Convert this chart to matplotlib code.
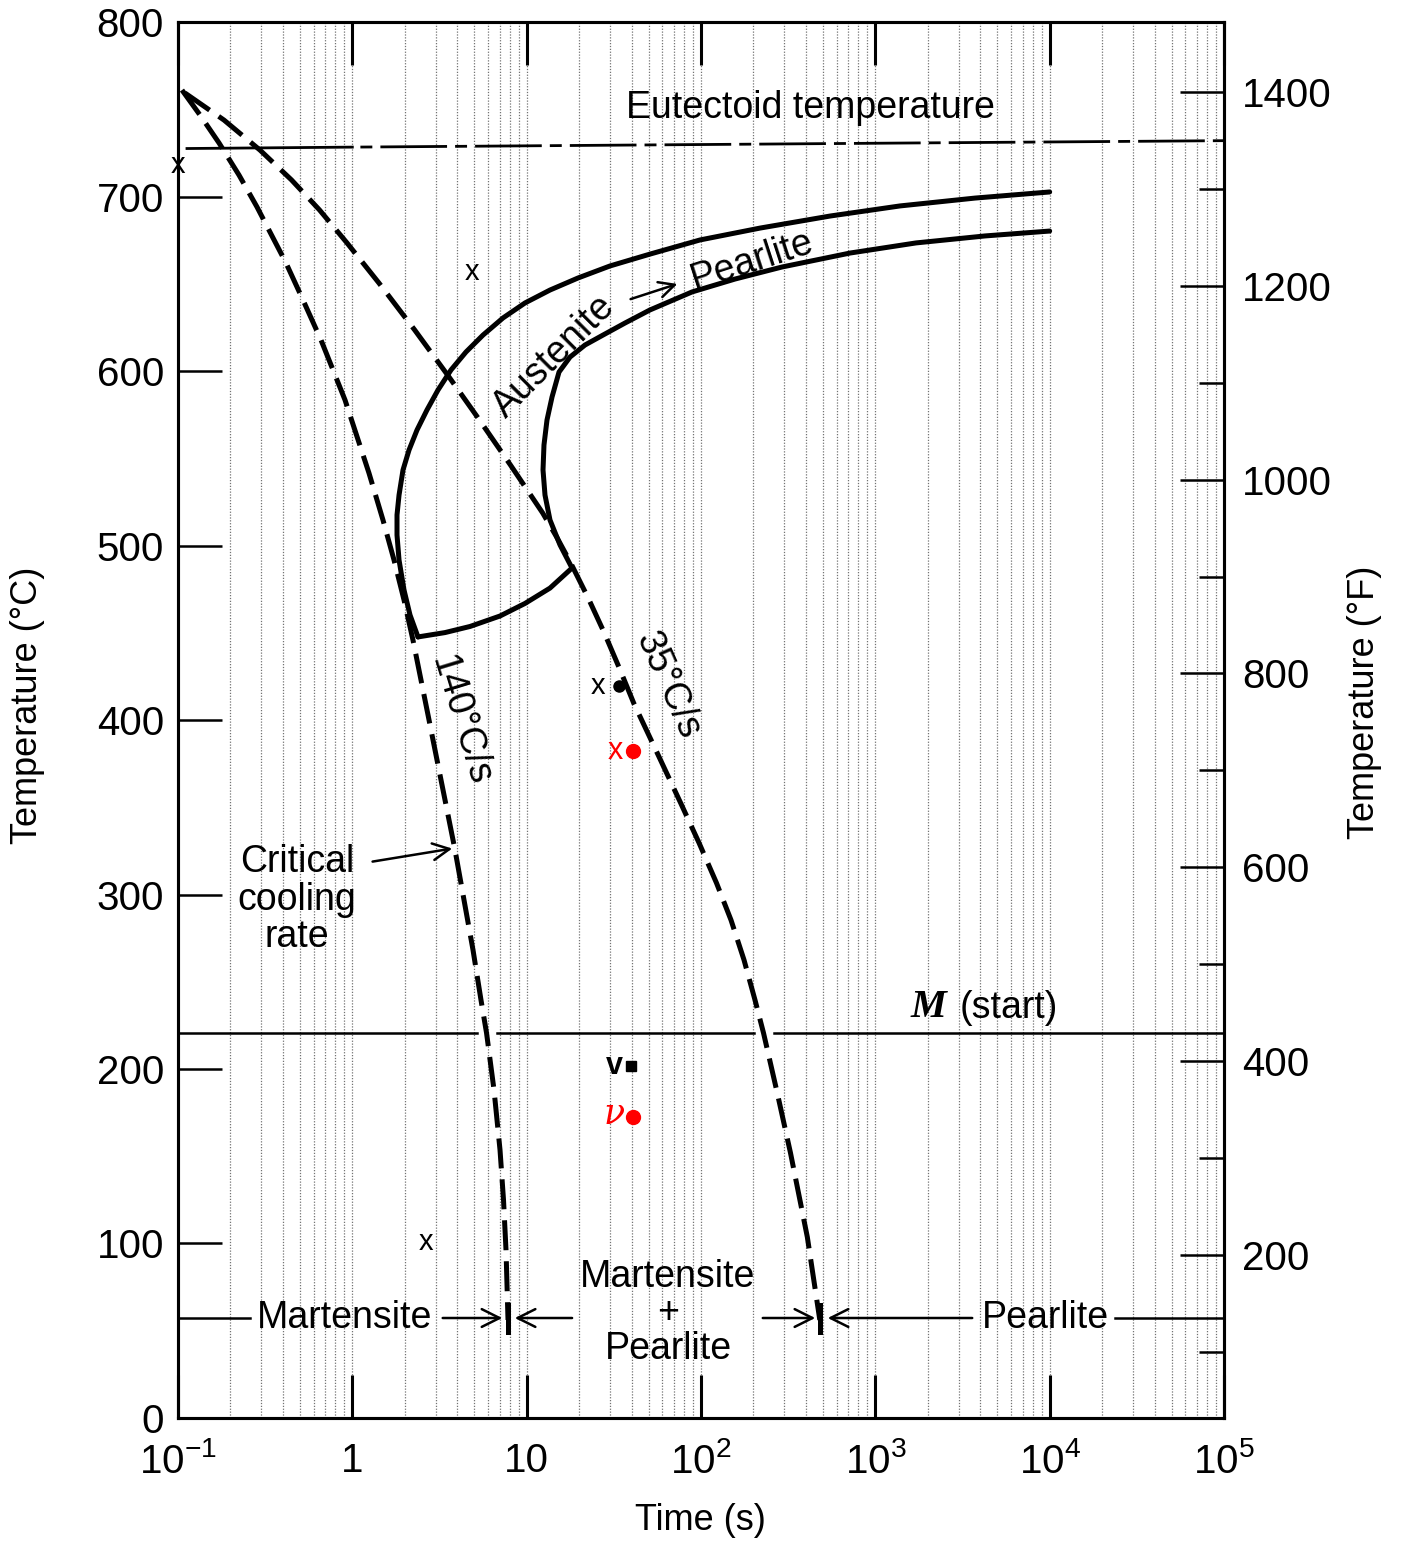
import matplotlib.pyplot as plt
import numpy as np
from matplotlib.ticker import FixedLocator, LogLocator, NullFormatter

plt.rcParams['font.family'] = ['Liberation Sans', 'DejaVu Sans']
plt.rcParams['mathtext.fontset'] = 'custom'
plt.rcParams['mathtext.rm'] = 'Liberation Sans'
plt.rcParams['mathtext.it'] = 'Liberation Sans:italic'
plt.rcParams['mathtext.bf'] = 'Liberation Sans:bold'

# axes
time_ticks = [0.1, 1, 10, 100, 1e3, 1e4, 1e5]
time_labels = ['$10^{-1}$', '1', '10', '$10^{2}$', '$10^{3}$', '$10^{4}$', '$10^{5}$']
tempC_ticks = [0, 100, 200, 300, 400, 500, 600, 700, 800]
tempF_major = [200, 400, 600, 800, 1000, 1200, 1400]
tempF_minor = [100, 300, 500, 700, 900, 1100, 1300]

# cooling curves (time s, temp C)
fast_t = [0.1054, 0.1337, 0.1719, 0.2238, 0.2839, 0.4165, 0.5212, 0.661, 0.9079, 1.246,
          1.499, 1.734, 1.979, 2.228, 2.477, 2.754, 3.060, 3.401, 3.882, 4.372, 4.923, 5.471,
          5.887, 6.497, 7.033, 7.366, 7.612, 7.816]
fast_T = [761, 746.7, 730.7, 712.3, 694, 661.9, 640.7, 617.8, 583.4, 541.5,
          514.6, 491.7, 468.8, 445.8, 422.9, 400, 377.1, 354.2, 325.5, 296.8, 268.2, 239.5,
          220.6, 188, 153.6, 124.9, 96.3, 56.2]
slow_t = [0.1096, 0.1836, 0.2953, 0.4478, 0.6481, 0.932, 1.422, 2.279, 3.585, 5.218, 8.077,
          12.36, 14.97, 17.89, 22.54, 27.89, 33.99, 41.11, 56.09, 76.47, 97.52, 122.7, 148.6,
          176.5, 204.1, 228.4, 273.9, 326.1, 407.3, 480.3]
slow_T = [759.3, 743.8, 726.6, 709.5, 692.3, 673.4, 650.4, 623.5, 596.6, 573.6, 546.1,
          518.6, 504.3, 490, 469.9, 449.9, 429.8, 409.7, 381.1, 352.4, 329.5, 306.6, 285.4,
          262.5, 239.5, 220.6, 186.2, 151.9, 103.7, 56.2]

# transformation curves
start_t = [2.380, 2.142, 1.979, 1.853, 1.804, 1.804, 1.853, 1.953, 2.114, 2.350, 2.681, 3.100,
           3.681, 4.487, 5.618, 7.315, 9.784, 13.61, 19.70, 30.07, 51.0, 98.7, 218.0, 549.5,
           1386, 3731, 10000]
start_T = [447.6, 460.2, 474.5, 491.7, 506, 517.5, 528.9, 543.3, 554.7, 566.2, 577.7, 589.1,
           600.6, 610.9, 620.6, 630.4, 639, 646.4, 653.3, 660.2, 667, 675.1, 681.9, 688.8,
           694.6, 699.1, 702.6]
finish_t = [18.20, 15.54, 13.61, 12.74, 12.41, 12.57, 13.08, 13.98, 15.33, 17.73, 21.61, 27.41,
            36.66, 51.0, 88.8, 156.7, 291.5, 716, 1712, 4258, 10000]
finish_T = [487.1, 500.3, 514.6, 528.9, 543.3, 557.6, 571.9, 585.1, 599.4, 608, 614.9, 620.6,
            627.5, 635, 645.3, 652.7, 659.6, 667.6, 673.4, 677.4, 680.2]
bottom_t = [2.380, 3.401, 4.732, 7.033, 9.784, 13.61, 18.20]
bottom_T = [447.6, 450.1, 453.6, 459.6, 466.8, 475.6, 487.1]

eut_t = [0.1126, 1, 1e5]
eut_T = [727.5, 728.3, 732]
ms_T = 220.6
band_T = 57.3

# measured points
x_pts_t = [0.1, 4.86, 25.7, 2.65]
x_pts_T = [718, 657, 419.5, 101]
black_dot = (33.9, 419.5)
red_x = (32.1, 382)
red_dot = (40.7, 382)
black_v = (31.7, 202)
black_vdot = (39.7, 202)
red_v = (31.7, 174)
red_vdot = (40.7, 172.5)

fig = plt.figure(figsize=(14.02, 15.41), dpi=100)
ax = fig.add_axes([0.12696, 0.07982, 0.74608, 0.9059])
ax.set_xscale('log')
ax.set_xlim(0.1, 1e5)
ax.set_ylim(0, 800)

ax.xaxis.set_major_locator(FixedLocator(time_ticks))
ax.set_xticklabels(time_labels)
ax.xaxis.set_minor_locator(LogLocator(base=10, subs=np.arange(2, 10), numticks=30))
ax.xaxis.set_minor_formatter(NullFormatter())
ax.grid(True, which='both', axis='x', color='0.45', lw=0.9, ls=(0, (1, 1.3)))
ax.set_yticks(tempC_ticks)

ax.tick_params(axis='x', which='major', direction='in', length=31, width=2.2, top=True,
               labelsize=29, pad=17)
ax.tick_params(axis='x', which='minor', length=0)
ax.tick_params(axis='y', direction='in', length=32, width=1.8, labelsize=29, pad=10)
for s in ax.spines.values():
    s.set_linewidth(2.2)

ax2 = ax.twinx()
ax2.set_ylim(32, 1472)
ax2.set_yticks(tempF_major)
ax2.yaxis.set_minor_locator(FixedLocator(tempF_minor))
ax2.tick_params(axis='y', which='major', direction='in', length=32, width=1.8, labelsize=29, pad=13)
ax2.tick_params(axis='y', which='minor', direction='in', length=18, width=1.8)
for s in ax2.spines.values():
    s.set_linewidth(2.2)

# eutectoid line: solid start, then long/short dashes
ax.plot(eut_t[:2], eut_T[:2], color='k', lw=2)
ax.plot(eut_t[1:], eut_T[1:], color='k', lw=2, ls=(24, (24, 2.9, 4.3, 2.9)))

# M start line, broken where the cooling curves cross it
cross = sorted([np.interp(ms_T, fast_T[::-1], np.log10(fast_t[::-1])),
                np.interp(ms_T, slow_T[::-1], np.log10(slow_t[::-1]))])
half = 0.0574
edges = [-1] + [v for c in cross for v in (c - half, c + half)] + [5]
for a, b in zip(edges[::2], edges[1::2]):
    ax.plot([10 ** a, 10 ** b], [ms_T, ms_T], color='k', lw=1.8)

ax.plot(fast_t, fast_T, color='k', lw=3.6, dashes=(6, 2.2), dash_capstyle='butt')
ax.plot(slow_t, slow_T, color='k', lw=3.6, dashes=(6, 2.2), dash_capstyle='butt')
ax.plot([fast_t[-1]] * 2, [49, 65], color='k', lw=3.6)
ax.plot([slow_t[-1]] * 2, [49, 65], color='k', lw=3.6)

ax.plot(start_t, start_T, color='k', lw=3.6, solid_capstyle='round', solid_joinstyle='round')
ax.plot(finish_t, finish_T, color='k', lw=3.6, solid_capstyle='round', solid_joinstyle='round')
ax.plot(bottom_t, bottom_T, color='k', lw=3.6, solid_capstyle='round', solid_joinstyle='round')

fs = 27
ax.text(422, 751, 'Eutectoid temperature', fontsize=fs, ha='center', va='center')
ax.text(14.3, 608, 'Austenite', fontsize=fs, ha='center', va='center', rotation=45)
ax.text(196, 663, 'Pearlite', fontsize=fs, ha='center', va='center', rotation=18)
ax.annotate('', xy=(75.8, 650.4), xytext=(38.1, 640.7),
            arrowprops=dict(arrowstyle='->', lw=1.8, mutation_scale=28))
ax.text(4.15, 400, '140°C/s', fontsize=fs, ha='center', va='center', rotation=-73)
ax.text(64.7, 420, '35°C/s', fontsize=fs, ha='center', va='center', rotation=-66)
ax.text(0.482, 297, 'Critical\ncooling\nrate', fontsize=fs, ha='center', va='center',
        linespacing=1.05)
ax.annotate('', xy=(3.88, 326.6), xytext=(1.26, 318.6),
            arrowprops=dict(arrowstyle='->', lw=1.8, mutation_scale=30))
ax.text(2005, 235, 'M', fontsize=fs + 2, ha='center', va='center', family='Liberation Serif',
        weight='bold', style='italic')
ax.text(3060, 235, '(start)', fontsize=fs, ha='left', va='center')

# bottom band
ax.plot([0.1, 0.259], [band_T, band_T], color='k', lw=1.8)
ax.text(0.908, band_T, 'Martensite', fontsize=fs, ha='center', va='center')
ax.annotate('', xy=(7.52, band_T), xytext=(3.18, band_T),
            arrowprops=dict(arrowstyle='->', lw=1.8, mutation_scale=32))
ax.annotate('', xy=(8.24, band_T), xytext=(18.9, band_T),
            arrowprops=dict(arrowstyle='->', lw=1.8, mutation_scale=32))
ax.text(64.7, 60, 'Martensite\n+\nPearlite', fontsize=fs, ha='center', va='center',
        linespacing=1.0)
ax.annotate('', xy=(469, band_T), xytext=(218, band_T),
            arrowprops=dict(arrowstyle='->', lw=1.8, mutation_scale=32))
ax.annotate('', xy=(514, band_T), xytext=(3730, band_T),
            arrowprops=dict(arrowstyle='->', lw=1.8, mutation_scale=32))
ax.text(9400, band_T, 'Pearlite', fontsize=fs, ha='center', va='center')
ax.plot([23700, 1e5], [band_T, band_T], color='k', lw=1.8)

# markers
for t, T in zip(x_pts_t, x_pts_T):
    ax.text(t, T, 'x', fontsize=21, ha='center', va='center', clip_on=False)
ax.plot(*black_dot, 'o', color='k', ms=8)
ax.text(*red_x, 'x', fontsize=22, ha='center', va='center', color='red')
ax.plot(*red_dot, 'o', color='red', ms=10)
ax.text(*black_v, 'v', fontsize=22, ha='center', va='center', weight='bold')
ax.plot(*black_vdot, 's', color='k', ms=7)
ax.text(*red_v, 'ν', fontsize=25, ha='center', va='center', color='red',
        family='DejaVu Serif', style='italic')
ax.plot(*red_vdot, 'o', color='red', ms=10)

fig.text(28 / 1402, 1 - 705 / 1541, 'Temperature (°C)', rotation=90, fontsize=26,
         ha='center', va='center')
fig.text(1365 / 1402, 1 - 702 / 1541, 'Temperature (°F)', rotation=90, fontsize=26,
         ha='center', va='center')
fig.text(700 / 1402, 1 - 1520 / 1541, 'Time (s)', fontsize=26, ha='center', va='center')

fig.savefig('out.png', dpi=100)
